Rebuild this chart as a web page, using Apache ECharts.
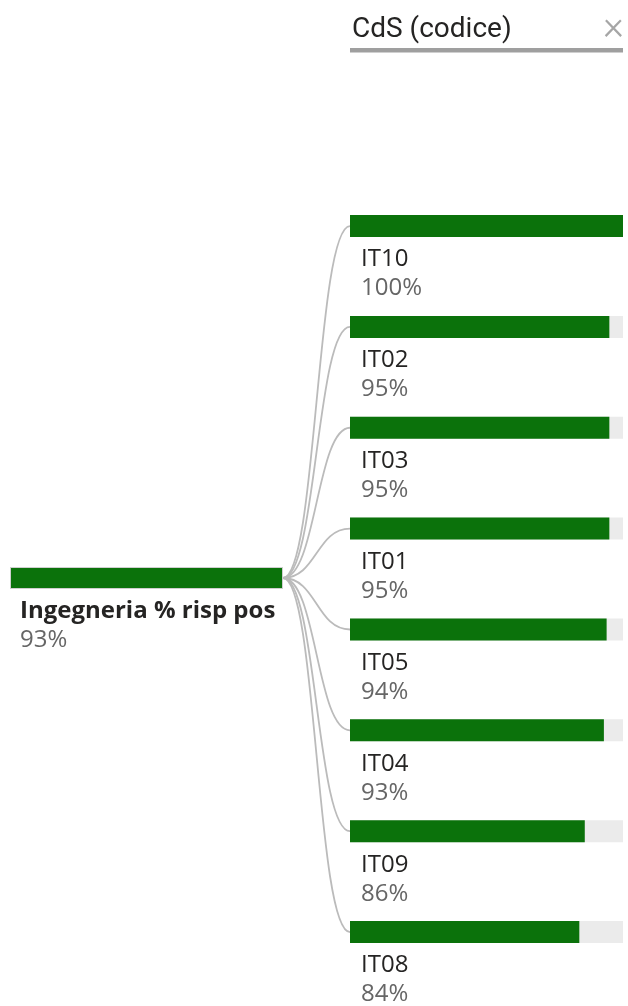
<!DOCTYPE html>
<html>
<head>
<meta charset="utf-8">
<script src="https://cdn.jsdelivr.net/npm/echarts@6/dist/echarts.min.js"></script>
<style>
  html, body { margin: 0; padding: 0; background: #ffffff; }
  #chart { width: 628px; height: 1006px; }
</style>
</head>
<body>
<div id="chart"></div>
<script>
// Decomposition tree: one root measure split by course code
const levelTitle = 'CdS (codice)';
const rootName = 'Ingegneria % risp pos';
const rootValue = 93;
const childNames = ['IT10', 'IT02', 'IT03', 'IT01', 'IT05', 'IT04', 'IT09', 'IT08'];
const childValues = [100, 95, 95, 95, 94, 93, 86, 84];
const childMax = 100;

const GREEN = '#0b720b';
const TRACK = '#ebebeb';
const LINK = '#bbbbbb';
const TEXT_DARK = '#252423';
const TEXT_GRAY = '#666666';
const FONT = '"Open Sans", "Noto Sans", sans-serif';

const chart = echarts.init(document.getElementById('chart'), null, { renderer: 'canvas' });

const baseOption = {
  animation: false,
  backgroundColor: '#ffffff',
  title: {
    text: levelTitle,
    left: 347,
    top: 11,
    textStyle: { fontFamily: 'Roboto, sans-serif', fontSize: 28, fontWeight: 'normal', color: TEXT_DARK }
  },
  graphic: [
    { type: 'rect', shape: { x: 350, y: 48, width: 273, height: 4.5 }, style: { fill: '#9f9f9f' } },
    { type: 'text', x: 603, y: 9, style: { text: '\u00d7', fontFamily: 'Roboto, sans-serif', fontSize: 40, fontWeight: 300, fill: '#a6a6a6' } }
  ],
  grid: [
    { left: 10, top: 567, width: 273, height: 22 },
    { left: 350, top: 175.6, width: 273, height: 806.9 }
  ],
  xAxis: [
    { gridIndex: 0, type: 'value', min: 0, max: rootValue, show: false },
    { gridIndex: 1, type: 'value', min: 0, max: childMax, show: false }
  ],
  yAxis: [
    { gridIndex: 0, type: 'category', data: [rootName], show: false },
    { gridIndex: 1, type: 'category', data: childNames, inverse: true, show: false }
  ],
  series: [
    {
      name: 'root',
      type: 'bar',
      xAxisIndex: 0, yAxisIndex: 0,
      data: [rootValue],
      barWidth: 22,
      itemStyle: { color: GREEN, borderColor: '#cfcfcf', borderWidth: 1 },
      label: {
        show: true,
        position: [10, 30],
        formatter: () => '{n|' + rootName + '}\n{v|' + rootValue + '%}',
        rich: {
          n: { fontFamily: FONT, fontSize: 24, fontWeight: 'bold', color: TEXT_DARK, lineHeight: 29 },
          v: { fontFamily: FONT, fontSize: 24, color: TEXT_GRAY, lineHeight: 29 }
        }
      },
      z: 3
    },
    {
      name: 'children',
      type: 'bar',
      xAxisIndex: 1, yAxisIndex: 1,
      data: childValues,
      barWidth: 22,
      showBackground: true,
      backgroundStyle: { color: TRACK },
      itemStyle: { color: GREEN },
      label: {
        show: true,
        position: [11, 30],
        formatter: (p) => '{n|' + p.name + '}\n{v|' + p.value + '%}',
        rich: {
          n: { fontFamily: FONT, fontSize: 24, color: TEXT_DARK, lineHeight: 29 },
          v: { fontFamily: FONT, fontSize: 24, color: TEXT_GRAY, lineHeight: 29 }
        }
      },
      z: 3
    }
  ]
};

chart.setOption(baseOption);

// Connector curves from the root bar's end to each child bar's start
const rootEnd = chart.convertToPixel({ xAxisIndex: 0, yAxisIndex: 0 }, [rootValue, rootName]);
const childStarts = childNames.map((n) => chart.convertToPixel({ xAxisIndex: 1, yAxisIndex: 1 }, [0, n]));

chart.setOption({
  series: [
    baseOption.series[0],
    baseOption.series[1],
    {
      name: 'links',
      type: 'custom',
      coordinateSystem: 'none',
      data: childNames.map((n, i) => [i]),
      renderItem: (params) => {
        const end = childStarts[params.dataIndex];
        const midX = (rootEnd[0] + end[0]) / 2;
        return {
          type: 'bezierCurve',
          shape: {
            x1: rootEnd[0], y1: rootEnd[1],
            cpx1: midX, cpy1: rootEnd[1],
            cpx2: midX, cpy2: end[1],
            x2: end[0], y2: end[1]
          },
          style: { stroke: LINK, lineWidth: 1.8, fill: null }
        };
      },
      silent: true,
      z: 1
    }
  ]
});
</script>
</body>
</html>
